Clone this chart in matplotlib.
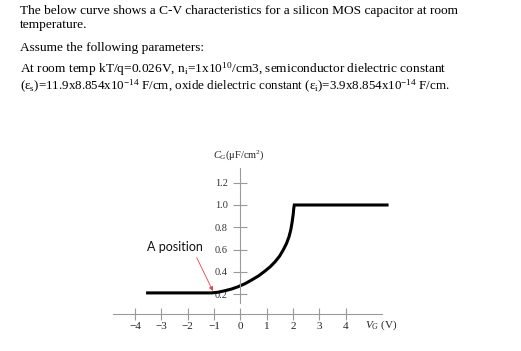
import matplotlib
matplotlib.use('Agg')
import matplotlib.pyplot as plt

plt.rcParams['font.family'] = ['Liberation Serif', 'DejaVu Serif']
plt.rcParams['mathtext.fontset'] = 'custom'
plt.rcParams['mathtext.rm'] = 'Liberation Serif'
plt.rcParams['mathtext.it'] = 'Liberation Serif:italic'

# C-V curve
vg = [-3.52, -1.09, -0.85, -0.58, -0.33, -0.08, 0.18, 0.43, 0.7, 0.94, 1.14, 1.32,
      1.49, 1.63, 1.75, 1.85, 1.92, 1.97, 2.01, 2.03, 2.05, 5.57]
cg = [0.21, 0.21, 0.216, 0.23, 0.245, 0.266, 0.293, 0.326, 0.364, 0.407, 0.446, 0.49,
      0.54, 0.596, 0.652, 0.715, 0.78, 0.85, 0.92, 0.97, 1.0, 1.0]

x_ticks = [-4, -3, -2, -1, 0, 1, 2, 3, 4]
x_tick_labels = ['\u22124', '\u22123', '\u22122', '\u22121', '0', '1', '2', '3', '4']
y_ticks = [0.2, 0.4, 0.6, 0.8, 1.0, 1.2]
y_tick_labels = ['0.2', '0.4', '0.6', '0.8', '1.0', '1.2']

header = [
    'The below curve shows a C-V characteristics for a silicon MOS capacitor at room',
    'temperature.',
    'Assume the following parameters:',
    'At room temp kT/q=0.026V, n$_\\mathrm{i}$=1x10$^{10}$/cm3, semiconductor dielectric constant',
    '(\u03b5$_\\mathrm{s}$)=11.9x8.854x10$^{-14}$ F/cm, oxide dielectric constant (\u03b5$_\\mathrm{i}$)=3.9x8.854x10$^{-14}$ F/cm.',
]
header_y = [11, 25, 48, 69, 86]
header_size = [9.6, 9.6, 9.6, 9.6, 9.4]

W, H = 521, 351
fig = plt.figure(figsize=(W / 100, H / 100), dpi=100)
ax = fig.add_axes([0, 0, 1, 1])
ax.set_xlim(-9.123, 10.657)
ax.set_ylim(-0.312, 2.842)

ax.plot(vg, cg, color='black', lw=2.2, solid_joinstyle='miter')

for s in ['top', 'right']:
    ax.spines[s].set_visible(False)
ax.spines['left'].set_position(('data', 0))
ax.spines['bottom'].set_position(('data', 0.018))
ax.spines['left'].set_bounds(0.12, 1.332)
ax.spines['bottom'].set_bounds(-4.83, 5.37)
for s in ['left', 'bottom']:
    ax.spines[s].set_color('#9a9a9a')
    ax.spines[s].set_linewidth(0.8)

ax.set_xticks(x_ticks)
ax.set_xticklabels(x_tick_labels)
ax.set_yticks(y_ticks)
ax.set_yticklabels(y_tick_labels)
ax.tick_params(axis='x', direction='inout', length=9, width=0.8, color='#9a9a9a',
               pad=1, labelsize=8, labelcolor='#222222')
ax.tick_params(axis='y', direction='inout', length=10, width=0.8, color='#9a9a9a',
               pad=4, labelsize=7.5, labelcolor='#333333')

ax.text(-0.04, 1.449, '$C_G$(\u03bcF/cm$^2$)', ha='center', va='center', fontsize=7.5, color='#222222')
ax.text(4.74, -0.079, '$V_G$ (V)', ha='left', va='center', fontsize=8, color='#222222')

ax.annotate('', xy=(-1.04, 0.227), xytext=(-1.655, 0.527),
            arrowprops=dict(arrowstyle='-|>', color='#e8404a', lw=0.6,
                            mutation_scale=6, shrinkA=0, shrinkB=0))
ax.text(-2.48, 0.623, 'A position', ha='center', va='center', fontsize=9,
        family='Lato', color='#111111')

for line, y, fs in zip(header, header_y, header_size):
    fig.text(20 / W, 1 - y / H, line, ha='left', va='center', fontsize=fs, color='black')

fig.savefig('out.png', dpi=100)
